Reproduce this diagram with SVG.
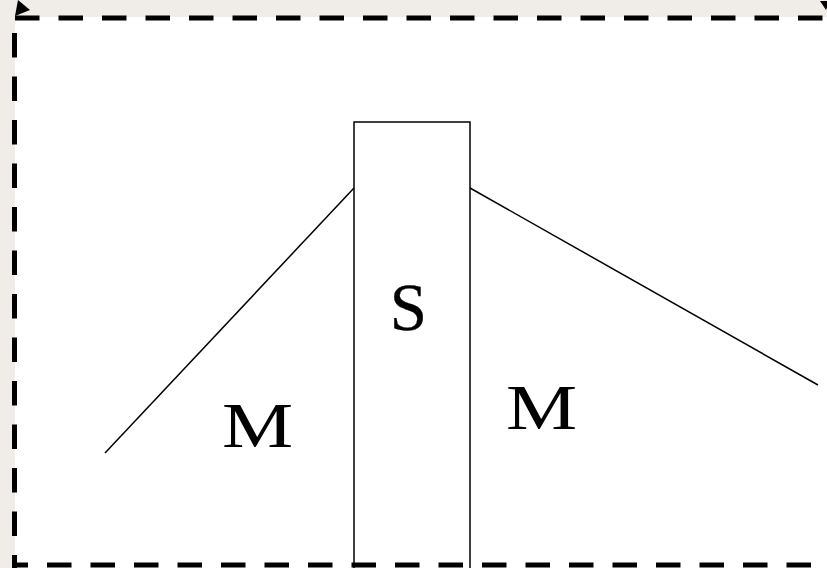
<svg xmlns="http://www.w3.org/2000/svg" width="827" height="568" viewBox="0 0 827 568">
<style>
.lbl{font-family:"Liberation Serif","Times New Roman",serif;fill:#000;}
.dash{stroke:#000;stroke-width:5;fill:none;stroke-dasharray:24.5 19;}
.ln{stroke:#000;stroke-width:1.5;fill:none;}
</style>
<rect x="0" y="0" width="827" height="568" fill="#f0ece8"/>
<rect x="15" y="17" width="820" height="560" fill="#fff"/>
<g id="connectors">
<line class="ln" x1="105" y1="453" x2="354" y2="188"/>
<line class="ln" x1="470" y1="188" x2="818" y2="385"/>
</g>
<g id="S">
<rect x="354" y="122" width="116" height="460" fill="#fff" stroke="#000" stroke-width="1.5"/>
<text class="lbl" x="408.5" y="330" font-size="67" text-anchor="middle" stroke="#000" stroke-width="0.3">S</text>
</g>
<g id="M1">
<text class="lbl" font-size="64" text-anchor="middle" transform="translate(257.5,447) scale(1.25,1)">M</text>
</g>
<g id="M2">
<text class="lbl" font-size="64" text-anchor="middle" transform="translate(541.5,429) scale(1.25,1)">M</text>
</g>
<g id="frame">
<line class="dash" x1="15" y1="18" x2="835" y2="18"/>
<line class="dash" x1="14.5" y1="18" x2="14.5" y2="580" stroke-dashoffset="28.5"/>
<line class="dash" x1="12" y1="565" x2="835" y2="565" stroke-dashoffset="8.5"/>
<polygon points="15,16 18,0 30,10" fill="#000"/>
<polygon points="820,1 830,1 826,10" fill="#000"/>
</g>
</svg>
